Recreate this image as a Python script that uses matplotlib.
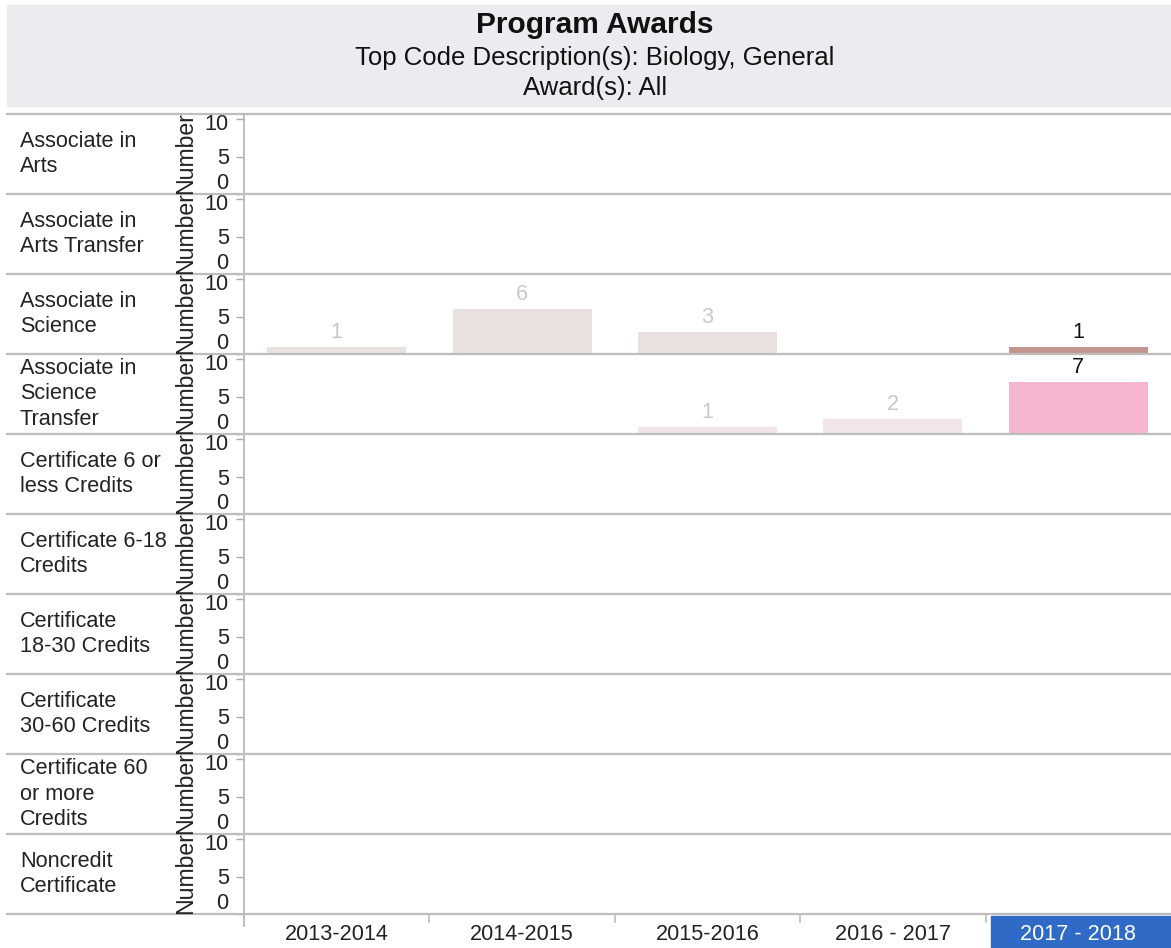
import matplotlib
matplotlib.use("Agg")
import matplotlib.pyplot as plt
from matplotlib.lines import Line2D
from matplotlib.patches import Rectangle
from matplotlib.transforms import ScaledTranslation

plt.rcParams['font.family'] = ['Liberation Sans', 'DejaVu Sans']

years = ['2013-2014', '2014-2015', '2015-2016', '2016 - 2017', '2017 - 2018']
awards = ['Associate in\nArts', 'Associate in\nArts Transfer', 'Associate in\nScience',
          'Associate in\nScience\nTransfer', 'Certificate 6 or\nless Credits',
          'Certificate 6-18\nCredits', 'Certificate\n18-30 Credits',
          'Certificate\n30-60 Credits', 'Certificate 60\nor more\nCredits',
          'Noncredit\nCertificate']
assoc_science = [1, 6, 3, None, 1]
assoc_science_transfer = [None, None, 1, 2, 7]
yticks = [0, 5, 10]
highlight_year = '2017 - 2018'

series = {2: assoc_science, 3: assoc_science_transfer}
faded_colors = {2: '#E8E1DF', 3: '#F4E5EA'}
strong_colors = {2: '#C4958F', 3: '#F5B5D0'}

FS = 15.6
W, H = 1171, 948
fig = plt.figure(figsize=(W / 100, H / 100), dpi=100)

def fx(px):
    return px / W

def fy(py):
    return 1 - py / H

# header
fig.patches.append(Rectangle((fx(7), fy(106)), fx(1171) - fx(7), fy(5) - fy(106),
                             transform=fig.transFigure, color='#EBECEF', zorder=0))
fig.text(fx(595), fy(25), 'Program Awards', ha='center', va='center',
         fontsize=21.5, fontweight='bold', color='#111111')
fig.text(fx(595), fy(58), 'Top Code Description(s): Biology, General', ha='center',
         va='center', fontsize=18.5, color='#111111')
fig.text(fx(595), fy(88), 'Award(s): All', ha='center', va='center',
         fontsize=18.5, color='#111111')

x0, x1 = 244, 1171
row_top0, row_h = 114, 80
px_per_unit = 7.5
n = len(awards)

for i, award in enumerate(awards):
    top = row_top0 + row_h * i
    bottom = top + row_h
    ax = fig.add_axes([fx(x0), fy(bottom), fx(x1) - fx(x0), fy(top) - fy(bottom)])
    ax.set_xlim(-0.5, len(years) - 0.5)
    ax.set_ylim(0, row_h / px_per_unit)
    for s in ax.spines.values():
        s.set_visible(False)
    ax.set_xticks([])
    ax.set_yticks(yticks)
    ax.set_yticklabels([str(t) for t in yticks])
    ax.tick_params(axis='y', length=6, width=1, color='#AAAAAA', labelsize=FS,
                   labelcolor='#222222', pad=5)
    labels = ax.get_yticklabels()
    labels[0].set_va('bottom')
    labels[2].set_transform(labels[2].get_transform() +
                            ScaledTranslation(0, -3 / 100, fig.dpi_scale_trans))
    ax.patch.set_alpha(0)

    if i in series:
        vals = series[i]
        for j, v in enumerate(vals):
            if v is None:
                continue
            strong = years[j] == highlight_year
            col = strong_colors[i] if strong else faded_colors[i]
            ax.bar(j, v, width=0.75, color=col, zorder=2)
            ax.text(j, v + 0.5, str(v), ha='center', va='bottom', fontsize=FS,
                    color='#111111' if strong else '#C8C8C8')

    # row label
    fig.text(fx(20), fy((top + bottom) / 2), award, ha='left', va='center',
             fontsize=FS, color='#222222', linespacing=1.3)
    # y-axis title
    fig.text(fx(186), fy((top + bottom) / 2 - 1), 'Number', rotation=90,
             ha='center', va='center', fontsize=16.6, color='#222222')

# separators
for i in range(n + 1):
    y = row_top0 + row_h * i
    fig.add_artist(Line2D([fx(7), fx(1171)], [fy(y), fy(y)], color='#BDBDBD',
                          lw=1.6, transform=fig.transFigure, zorder=3))

# vertical axis line
fig.add_artist(Line2D([fx(x0), fx(x0)], [fy(row_top0), fy(926)], color='#BDBDBD',
                      lw=1.4, transform=fig.transFigure, zorder=3))

# x axis labels
col_w = (x1 - x0) / len(years)
for k, yr in enumerate(years):
    cx = x0 + col_w * (k + 0.5)
    if yr == highlight_year:
        fig.patches.append(Rectangle((fx(991), fy(948)), fx(1171) - fx(991),
                                     fy(916) - fy(948), transform=fig.transFigure,
                                     color='#2F6BC6', zorder=1))
        fig.text(fx(cx), fy(934), yr, ha='center', va='center', fontsize=FS,
                 color='white', zorder=4)
    else:
        fig.text(fx(cx), fy(934), yr, ha='center', va='center', fontsize=FS,
                 color='#222222')
    if k > 0:
        bx = x0 + col_w * k
        fig.add_artist(Line2D([fx(bx), fx(bx)], [fy(914), fy(922)], color='#BDBDBD',
                              lw=1.2, transform=fig.transFigure))

fig.savefig('out.png', dpi=100, facecolor='white')
